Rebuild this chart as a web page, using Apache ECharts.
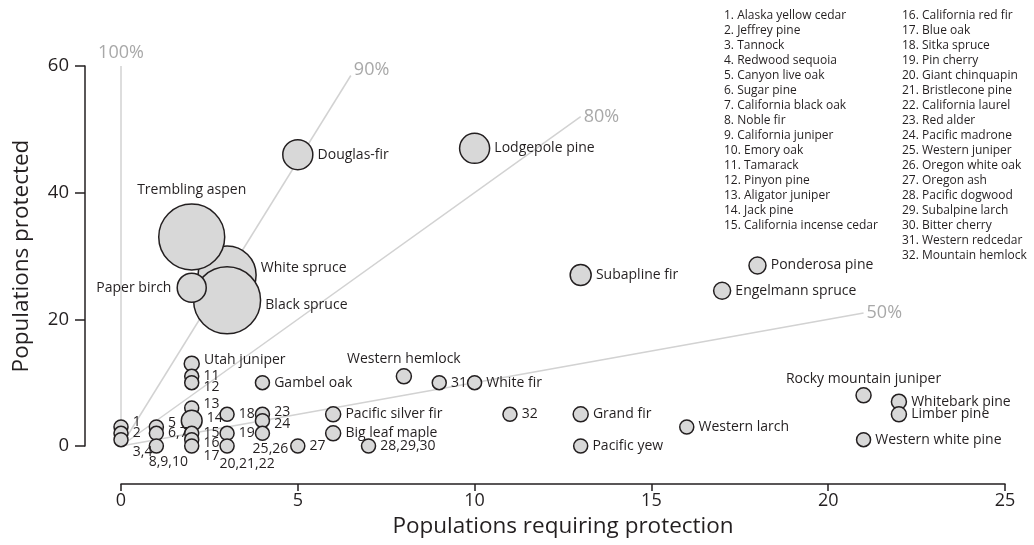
<!DOCTYPE html>
<html>
<head>
<meta charset="utf-8">
<script src="https://cdn.jsdelivr.net/npm/echarts@6/dist/echarts.min.js"></script>
<style>
  html, body { margin: 0; padding: 0; background: #ffffff; }
  #chart { width: 1034px; height: 545px; }
</style>
</head>
<body>
<div id="chart"></div>
<script>
// ---- Named species (drawn in this order so larger bubbles stack correctly) ----
const speciesNames = [
  'White spruce', 'Black spruce', 'Trembling aspen', 'Paper birch',
  'Douglas-fir', 'Lodgepole pine', 'Subapline fir', 'Ponderosa pine',
  'Engelmann spruce', 'Utah juniper', 'Gambel oak', 'Western hemlock',
  'White fir', 'Pacific silver fir', 'Big leaf maple', 'Grand fir',
  'Pacific yew', 'Western larch', 'Rocky mountain juniper', 'Whitebark pine',
  'Limber pine', 'Western white pine'
];
const speciesRequiring = [3, 3, 2, 2, 5, 10, 13, 18, 17, 2, 4, 8, 10, 6, 6, 13, 13, 16, 21, 22, 22, 21];
const speciesProtected = [27, 23, 33, 25, 46, 47, 27, 28.5, 24.5, 13, 10, 11, 10, 5, 2, 5, 0, 3, 8, 7, 5, 1];
const speciesWeight = [17.2, 22.9, 22.2, 4.3, 4.6, 4.6, 2.25, 1.47, 1.47, 1.15, 1.0, 1.15, 1.0, 1.15, 1.15, 1.15, 1.0, 1.0, 1.15, 1.15, 1.15, 1.0];

// ---- Numbered species (keys refer to the list on the right) ----
const clusterKeys = ['1', '2', '3,4', '5', '6,7', '8,9,10', '11', '12', '13', '14', '15', '16', '17',
  '18', '19', '20,21,22', '23', '24', '25,26', '27', '28,29,30', '31', '32'];
const clusterRequiring = [0, 0, 0, 1, 1, 1, 2, 2, 2, 2, 2, 2, 2, 3, 3, 3, 4, 4, 4, 5, 7, 9, 11];
const clusterProtected = [3, 2, 1, 3, 2, 0, 11, 10, 6, 4, 2, 1, 0, 5, 2, 0, 5, 4, 2, 0, 0, 10, 5];
const clusterWeight = [1, 1, 1, 1, 1, 1, 1, 1, 1, 2.2, 1, 1, 1, 1, 1, 1, 1, 1, 1, 1, 1, 1, 1];

const keyList = [
  'Alaska yellow cedar', 'Jeffrey pine', 'Tannock', 'Redwood sequoia', 'Canyon live oak',
  'Sugar pine', 'California black oak', 'Noble fir', 'California juniper', 'Emory oak',
  'Tamarack', 'Pinyon pine', 'Aligator juniper', 'Jack pine', 'California incense cedar',
  'California red fir', 'Blue oak', 'Sitka spruce', 'Pin cherry', 'Giant chinquapin',
  'Bristlecone pine', 'California laurel', 'Red alder', 'Pacific madrone', 'Western juniper',
  'Oregon white oak', 'Oregon ash', 'Pacific dogwood', 'Subalpine larch', 'Bitter cherry',
  'Western redcedar', 'Mountain hemlock'
];

// ---- Share-protected guide lines ----
const guideLabels = ['100%', '90%', '80%', '50%'];
const guideShares = [1.0, 0.9, 0.8, 0.5];
const guideReach = [60, 65, 65, 42];   // total populations at the far end of each guide

const xTicks = [0, 25, 5];   // min, max, interval
const yTicks = [0, 60, 20];

// ---- styling ----
const INK = '#231f20';
const FONT = '"Open Sans", "DejaVu Sans", sans-serif';
const BASE = 14;   // bubble diameter for weight 1

const labelPlacement = {
  'Trembling aspen': { position: 'top', distance: 6 },
  'White spruce': { position: 'right', offset: [0, -7] },
  'Black spruce': { position: 'right', offset: [0, 5] },
  'Paper birch': { position: 'left', distance: 5 },
  'Western hemlock': { position: 'top', distance: 2 },
  'Rocky mountain juniper': { position: 'top', distance: 1 },
  'Utah juniper': { position: 'right', offset: [0, -4] },
  '1': { position: 'right', offset: [0, -5] },
  '3,4': { position: 'right', offset: [0, 12] },
  '5': { position: 'right', offset: [0, -4] },
  '8,9,10': { position: 'bottom', distance: 1, offset: [12, 0] },
  '12': { position: 'right', offset: [0, 4] },
  '13': { position: 'right', offset: [0, -4] },
  '14': { position: 'right', offset: [0, -3] },
  '16': { position: 'right', offset: [0, 3] },
  '17': { position: 'right', offset: [0, 10] },
  '20,21,22': { position: 'bottom', offset: [20, -1] },
  '23': { position: 'right', offset: [0, -2] },
  '24': { position: 'right', offset: [0, 3] },
  '25,26': { position: 'bottom', offset: [8, -3] }
};

function bubbleItems(labels, xs, ys, ws) {
  return labels.map(function (name, i) {
    const place = labelPlacement[name] || { position: 'right' };
    return {
      name: name,
      value: [xs[i], ys[i]],
      symbolSize: BASE * Math.sqrt(ws[i]),
      label: Object.assign({ distance: 4 }, place)
    };
  });
}

const bubbleStyle = {
  color: '#d8d8d8',
  borderColor: INK,
  borderWidth: 1.5,
  opacity: 1
};
const bubbleLabel = {
  show: true,
  formatter: '{b}',
  color: INK,
  fontFamily: FONT,
  fontSize: 14
};

// guide lines from the origin out to their reach
const guideSeries = guideLabels.map(function (lab, i) {
  const total = guideReach[i];
  const p = guideShares[i];
  return {
    type: 'line',
    name: lab,
    data: [[0, 0], [total * (1 - p), total * p]],
    symbol: 'none',
    silent: true,
    z: 1,
    lineStyle: { color: '#d2d2d2', width: 1.5 }
  };
});

const guideLabelOffsets = [[0, 0], [0, -6], [0, 0], [0, 0]];
const guideEndLabels = {
  type: 'scatter',
  silent: true,
  z: 1,
  symbolSize: 0,
  data: guideLabels.map(function (lab, i) {
    const total = guideReach[i];
    const p = guideShares[i];
    return {
      name: lab,
      value: [total * (1 - p), total * p],
      label: i === 0
        ? { position: 'top', distance: 4 }
        : { position: 'right', distance: 3, offset: guideLabelOffsets[i] }
    };
  }),
  label: {
    show: true,
    formatter: '{b}',
    color: '#929292',
    fontFamily: FONT,
    fontSize: 18
  }
};

// key list drawn as plain text in two columns
const keyGraphics = keyList.map(function (name, i) {
  const col = i < 15 ? 0 : 1;
  const row = col === 0 ? i : i - 15;
  return {
    type: 'text',
    x: col === 0 ? 724 : 902,
    y: 16 + row * 15,
    silent: true,
    style: {
      text: (i + 1) + '. ' + name,
      fill: INK,
      font: '12px ' + FONT,
      verticalAlign: 'middle',
      align: 'left'
    }
  };
});

const chart = echarts.init(document.getElementById('chart'), null, { renderer: 'canvas' });
chart.setOption({
  animation: false,
  backgroundColor: '#ffffff',
  grid: { left: 121, right: 29, top: 66, bottom: 99, containLabel: false, outerBoundsMode: 'none' },
  xAxis: {
    type: 'value',
    min: xTicks[0], max: xTicks[1], interval: xTicks[2],
    offset: 38,
    splitLine: { show: false },
    axisLine: { show: true, onZero: false, lineStyle: { color: INK, width: 1.5 } },
    axisTick: { show: true, length: 7, lineStyle: { color: INK, width: 1.5 } },
    axisLabel: { color: INK, fontFamily: FONT, fontSize: 18, margin: 8 },
    name: 'Populations requiring protection',
    nameLocation: 'middle',
    nameGap: 30,
    nameTextStyle: { color: INK, fontFamily: FONT, fontSize: 22.5 }
  },
  yAxis: {
    type: 'value',
    min: yTicks[0], max: yTicks[1], interval: yTicks[2],
    offset: 36,
    splitLine: { show: false },
    axisLine: { show: true, onZero: false, lineStyle: { color: INK, width: 1.5 } },
    axisTick: { show: true, length: 10, lineStyle: { color: INK, width: 1.5 } },
    axisLabel: { color: INK, fontFamily: FONT, fontSize: 18.5, margin: 16 },
    name: 'Populations protected',
    nameLocation: 'middle',
    nameGap: 52,
    nameTextStyle: { color: INK, fontFamily: FONT, fontSize: 22.5 }
  },
  graphic: keyGraphics,
  series: guideSeries.concat([
    guideEndLabels,
    {
      type: 'scatter',
      name: 'named',
      z: 3,
      data: bubbleItems(speciesNames, speciesRequiring, speciesProtected, speciesWeight),
      itemStyle: bubbleStyle,
      label: bubbleLabel,
      emphasis: { disabled: true }
    },
    {
      type: 'scatter',
      name: 'numbered',
      z: 3,
      data: bubbleItems(clusterKeys, clusterRequiring, clusterProtected, clusterWeight),
      itemStyle: bubbleStyle,
      label: bubbleLabel,
      emphasis: { disabled: true }
    }
  ])
});
</script>
</body>
</html>
